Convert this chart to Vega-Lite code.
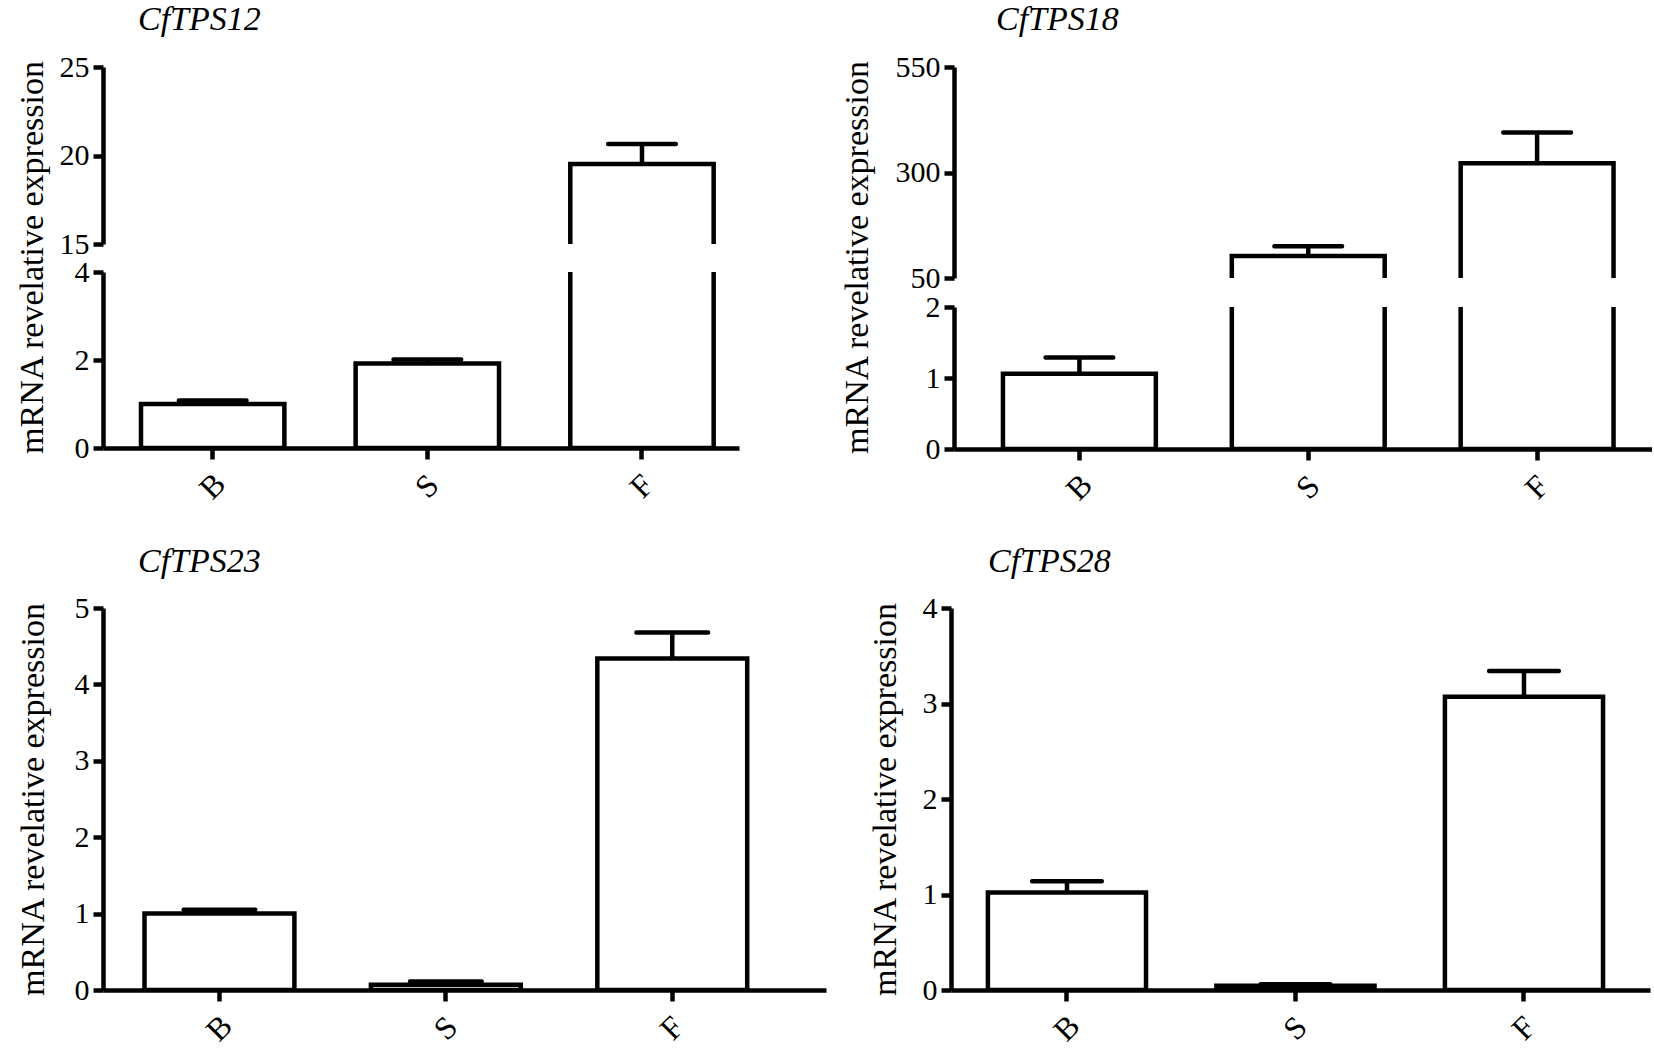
{
  "$schema": "https://vega.github.io/schema/vega-lite/v6.json",
  "background": "white",
  "padding": {"left": 14, "top": 3, "right": 0, "bottom": 0},
  "config": {
    "view": {"stroke": null},
    "title": {"font": "Liberation Serif", "fontSize": 34, "fontStyle": "italic", "fontWeight": "normal", "color": "black", "anchor": "start", "frame": "group"},
    "axis": {
      "domainColor": "black", "domainWidth": 4.5, "tickColor": "black", "tickWidth": 4.5,
      "grid": false, "labelFont": "Liberation Serif", "labelColor": "black",
      "titleFont": "Liberation Serif", "titleFontWeight": "normal", "titleColor": "black", "titleFontSize": 34
    },
    "axisY": {"tickSize": 10, "labelFontSize": 30, "labelPadding": 4, "format": "d"},
    "axisX": {"tickSize": 11, "labelFontSize": 32, "labelAngle": -45, "labelAlign": "center", "labelBaseline": "middle", "labelPadding": 27, "title": null}
  },
  "datasets": {
    "tps12": [
      {"tissue": "B", "mean": 1.0, "upper": 1.08},
      {"tissue": "S", "mean": 1.92, "upper": 2.01},
      {"tissue": "F", "mean": 19.52, "upper": 20.65}
    ],
    "tps18": [
      {"tissue": "B", "mean": 1.06, "upper": 1.29},
      {"tissue": "S", "mean": 102, "upper": 125},
      {"tissue": "F", "mean": 322, "upper": 395}
    ],
    "tps23": [
      {"tissue": "B", "mean": 1.0, "upper": 1.05},
      {"tissue": "S", "mean": 0.07, "upper": 0.11},
      {"tissue": "F", "mean": 4.34, "upper": 4.68}
    ],
    "tps28": [
      {"tissue": "B", "mean": 1.02, "upper": 1.14},
      {"tissue": "S", "mean": 0.045, "upper": 0.06},
      {"tissue": "F", "mean": 3.07, "upper": 3.34}
    ]
  },
  "spacing": 39,
  "resolve": {"scale": {"x": "independent", "y": "independent"}},
  "vconcat": [
    {
      "spacing": 100,
      "resolve": {"scale": {"x": "independent", "y": "independent"}},
      "hconcat": [
        {
          "bounds": "flush",
          "spacing": 28,
          "resolve": {"scale": {"x": "independent", "y": "independent"}},
          "vconcat": [
            {
              "title": {"text": "CfTPS12", "dx": 35, "offset": 15},
              "width": 636, "height": 177,
              "data": {"name": "tps12"},
              "encoding": {
                "x": {"field": "tissue", "type": "nominal", "scale": {"domain": ["B", "S", "F"], "paddingInner": 0.332, "paddingOuter": 0.1475, "align": 0.6}, "axis": null}
              },
              "layer": [
                {"mark": {"type": "bar", "fill": "white", "stroke": "black", "strokeWidth": 4.5, "clip": true},
                 "encoding": {"y": {"field": "mean", "type": "quantitative", "scale": {"domain": [15, 25], "zero": false, "nice": false}, "axis": {"values": [15, 20, 25], "title": null}}, "y2": {"datum": 0}}},
                {"mark": {"type": "rule", "strokeWidth": 4.5, "color": "black", "clip": true},
                 "encoding": {"y": {"field": "mean", "type": "quantitative"}, "y2": {"field": "upper"}}},
                {"mark": {"type": "tick", "orient": "horizontal", "size": 72, "thickness": 4.5, "color": "black", "opacity": 1, "cornerRadius": 2, "clip": true},
                 "encoding": {"y": {"field": "upper", "type": "quantitative"}}}
              ]
            },
            {
              "width": 636, "height": 176,
              "data": {"name": "tps12"},
              "encoding": {
                "x": {"field": "tissue", "type": "nominal", "scale": {"domain": ["B", "S", "F"], "paddingInner": 0.332, "paddingOuter": 0.1475, "align": 0.6}}
              },
              "layer": [
                {"mark": {"type": "bar", "fill": "white", "stroke": "black", "strokeWidth": 4.5, "clip": true},
                 "encoding": {"y": {"field": "mean", "type": "quantitative", "scale": {"domain": [0, 4], "nice": false}, "axis": {"values": [0, 2, 4], "title": "mRNA revelative expression", "titleX": -54, "titleY": -15}}, "y2": {"datum": 0}}},
                {"mark": {"type": "rule", "strokeWidth": 4.5, "color": "black", "clip": true},
                 "encoding": {"y": {"field": "mean", "type": "quantitative"}, "y2": {"field": "upper"}}},
                {"mark": {"type": "tick", "orient": "horizontal", "size": 72, "thickness": 4.5, "color": "black", "opacity": 1, "cornerRadius": 2, "clip": true},
                 "encoding": {"y": {"field": "upper", "type": "quantitative"}}}
              ]
            }
          ]
        },
        {
          "bounds": "flush",
          "spacing": 29,
          "resolve": {"scale": {"x": "independent", "y": "independent"}},
          "vconcat": [
            {
              "title": {"text": "CfTPS18", "dx": 42, "offset": 15},
              "width": 698, "height": 211,
              "data": {"name": "tps18"},
              "encoding": {
                "x": {"field": "tissue", "type": "nominal", "scale": {"domain": ["B", "S", "F"], "paddingInner": 0.332, "paddingOuter": 0.191, "align": 0.56}, "axis": null}
              },
              "layer": [
                {"mark": {"type": "bar", "fill": "white", "stroke": "black", "strokeWidth": 4.5, "clip": true},
                 "encoding": {"y": {"field": "mean", "type": "quantitative", "scale": {"domain": [50, 550], "zero": false, "nice": false}, "axis": {"values": [50, 300, 550], "title": null}}, "y2": {"datum": 0}}},
                {"mark": {"type": "rule", "strokeWidth": 4.5, "color": "black", "clip": true},
                 "encoding": {"y": {"field": "mean", "type": "quantitative"}, "y2": {"field": "upper"}}},
                {"mark": {"type": "tick", "orient": "horizontal", "size": 72, "thickness": 4.5, "color": "black", "opacity": 1, "cornerRadius": 2, "clip": true},
                 "encoding": {"y": {"field": "upper", "type": "quantitative"}}}
              ]
            },
            {
              "width": 698, "height": 142,
              "data": {"name": "tps18"},
              "encoding": {
                "x": {"field": "tissue", "type": "nominal", "scale": {"domain": ["B", "S", "F"], "paddingInner": 0.332, "paddingOuter": 0.191, "align": 0.56}}
              },
              "layer": [
                {"mark": {"type": "bar", "fill": "white", "stroke": "black", "strokeWidth": 4.5, "clip": true},
                 "encoding": {"y": {"field": "mean", "type": "quantitative", "scale": {"domain": [0, 2], "nice": false}, "axis": {"values": [0, 1, 2], "title": "mRNA revelative expression", "titleX": -80, "titleY": -50}}, "y2": {"datum": 0}}},
                {"mark": {"type": "rule", "strokeWidth": 4.5, "color": "black", "clip": true},
                 "encoding": {"y": {"field": "mean", "type": "quantitative"}, "y2": {"field": "upper"}}},
                {"mark": {"type": "tick", "orient": "horizontal", "size": 72, "thickness": 4.5, "color": "black", "opacity": 1, "cornerRadius": 2, "clip": true},
                 "encoding": {"y": {"field": "upper", "type": "quantitative"}}}
              ]
            }
          ]
        }
      ]
    },
    {
      "spacing": 41,
      "resolve": {"scale": {"x": "independent", "y": "independent"}},
      "hconcat": [
        {
          "title": {"text": "CfTPS23", "dx": 35, "offset": 14},
          "width": 723, "height": 382,
          "data": {"name": "tps23"},
          "encoding": {
            "x": {"field": "tissue", "type": "nominal", "scale": {"domain": ["B", "S", "F"], "paddingInner": 0.338, "paddingOuter": 0.2657, "align": 0.345}}
          },
          "layer": [
            {"mark": {"type": "bar", "fill": "white", "stroke": "black", "strokeWidth": 4.5, "clip": true},
             "encoding": {"y": {"field": "mean", "type": "quantitative", "scale": {"domain": [0, 5], "nice": false}, "axis": {"values": [0, 1, 2, 3, 4, 5], "title": "mRNA revelative expression", "titleX": -53}}, "y2": {"datum": 0}}},
            {"mark": {"type": "rule", "strokeWidth": 4.5, "color": "black", "clip": true},
             "encoding": {"y": {"field": "mean", "type": "quantitative"}, "y2": {"field": "upper"}}},
            {"mark": {"type": "tick", "orient": "horizontal", "size": 76, "thickness": 4.5, "color": "black", "opacity": 1, "cornerRadius": 2, "clip": true},
             "encoding": {"y": {"field": "upper", "type": "quantitative"}}}
          ]
        },
        {
          "title": {"text": "CfTPS28", "dx": 37, "offset": 14},
          "width": 699, "height": 382,
          "data": {"name": "tps28"},
          "encoding": {
            "x": {"field": "tissue", "type": "nominal", "scale": {"domain": ["B", "S", "F"], "paddingInner": 0.308, "paddingOuter": 0.1835, "align": 0.44}}
          },
          "layer": [
            {"mark": {"type": "bar", "fill": "white", "stroke": "black", "strokeWidth": 4.5, "clip": true},
             "encoding": {"y": {"field": "mean", "type": "quantitative", "scale": {"domain": [0, 4], "nice": false}, "axis": {"values": [0, 1, 2, 3, 4], "title": "mRNA revelative expression", "titleX": -49}}, "y2": {"datum": 0}}},
            {"mark": {"type": "rule", "strokeWidth": 4.5, "color": "black", "clip": true},
             "encoding": {"y": {"field": "mean", "type": "quantitative"}, "y2": {"field": "upper"}}},
            {"mark": {"type": "tick", "orient": "horizontal", "size": 74, "thickness": 4.5, "color": "black", "opacity": 1, "cornerRadius": 2, "clip": true},
             "encoding": {"y": {"field": "upper", "type": "quantitative"}}}
          ]
        }
      ]
    }
  ]
}
